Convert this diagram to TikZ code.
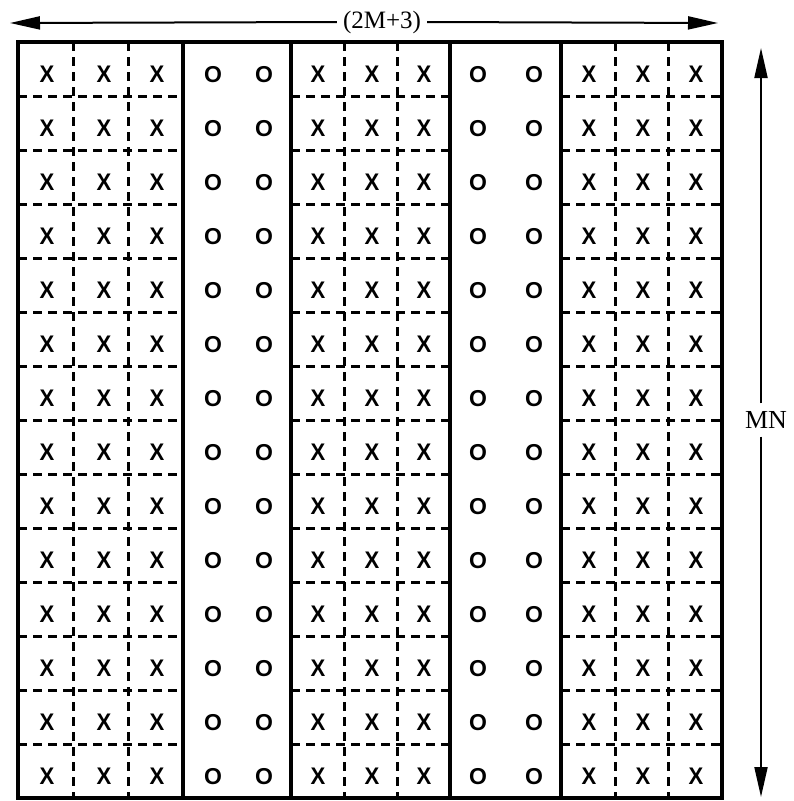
\documentclass[tikz,border=0pt]{standalone}
\usepackage{fontspec}
\setmainfont{Liberation Serif}
\newfontfamily\cellfont[FakeStretch=0.92]{Liberation Sans}
\newfontfamily\ofont{Liberation Sans}
\usetikzlibrary{arrows.meta}
\begin{document}
\begin{tikzpicture}[x=1pt,y=-1pt,
  xcell/.style={font=\cellfont\bfseries\fontsize{24}{24}\selectfont, inner sep=0pt},
  ocell/.style={font=\ofont\bfseries\fontsize{23}{23}\selectfont, inner sep=0pt},
  solidline/.style={line width=3.5pt},
  gridline/.style={line width=3pt, dash pattern=on 9pt off 6pt},
  dimarrow/.style={line width=2pt, -{Triangle[length=30pt,width=13pt]}},
  dimlabel/.style={inner xsep=6pt, inner ysep=8pt}]
\useasboundingbox (0,0) rectangle (793,801);
% dashed horizontals inside the X blocks
\foreach \k in {1,...,13}{
  \pgfmathsetmacro{\yy}{42+54*\k}
  \draw[gridline] (18,\yy) -- (183,\yy);
  \draw[gridline] (291,\yy) -- (450,\yy);
  \draw[gridline] (561,\yy) -- (722,\yy);
}
% dashed verticals inside the X blocks
\foreach \xx in {73,128,344,397,615,668}{
  \draw[gridline] (\xx,42) -- (\xx,798);
}
% solid frame and block separators
\draw[solidline] (18,42) rectangle (722,798);
\foreach \xx in {183,291,450,561}{
  \draw[solidline] (\xx,42) -- (\xx,798);
}
% cell letters
\foreach \r in {0,...,13}{
  \pgfmathsetmacro{\yy}{74+54*\r}
  \pgfmathsetmacro{\yo}{75+54*\r}
  \foreach \xx [count=\i] in {47,104,157,318,372,424,589,643,696}{
    \node[xcell] (x-\r-\i) at (\xx,\yy) {X};
  }
  \foreach \xx [count=\i] in {213,264,478,534}{
    \node[ocell] (o-\r-\i) at (\xx,\yo) {O};
  }
}
% dimension arrows
\coordinate (hl) at (10,23);
\coordinate (hr) at (718,23);
\node[dimlabel, font=\fontsize{25}{25}\selectfont] (w) at (382,22) {(2M+3)};
\draw[dimarrow] (w.west) -- (hl);
\draw[dimarrow] (w.east) -- (hr);
\coordinate (vt) at (761,48);
\coordinate (vb) at (761,797);
\node[dimlabel, font=\fontsize{26}{26}\selectfont] (mn) at (766,420) {MN};
\draw[dimarrow] (vt |- mn.north) -- (vt);
\draw[dimarrow] (vb |- mn.south) -- (vb);
\end{tikzpicture}
\end{document}
